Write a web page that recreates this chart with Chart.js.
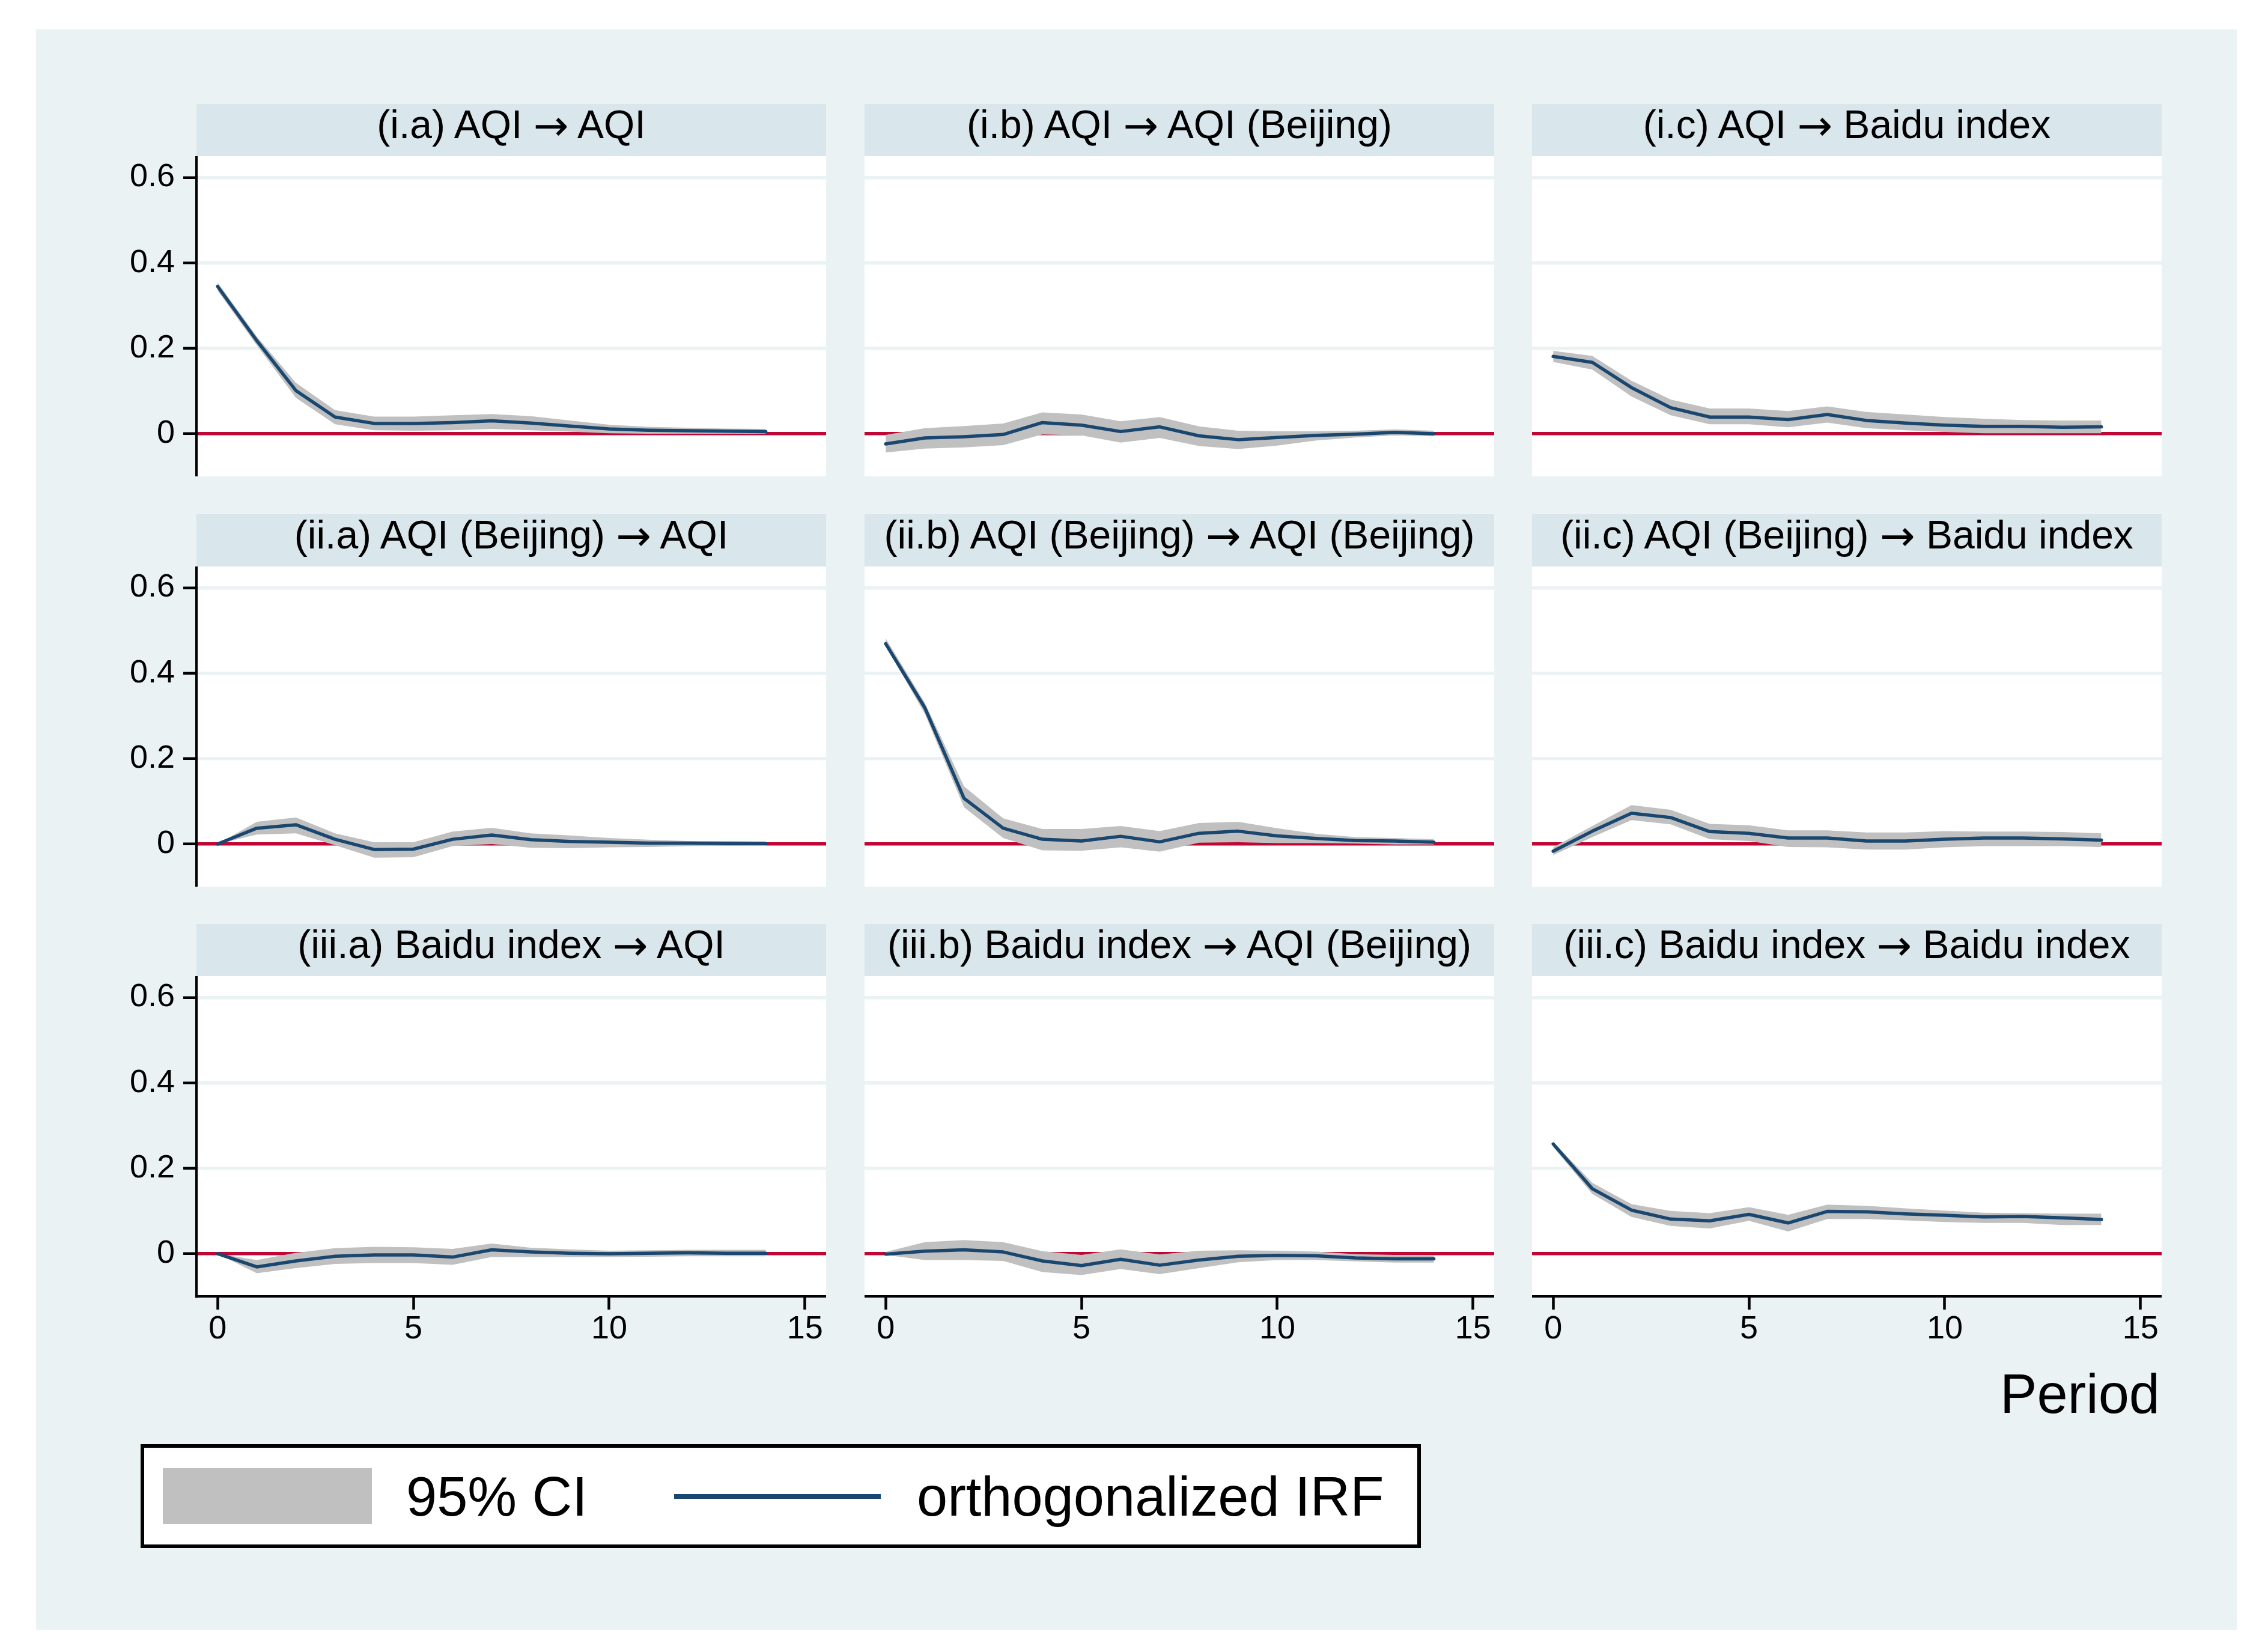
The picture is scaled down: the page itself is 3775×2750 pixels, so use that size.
<!DOCTYPE html>
<html>
<head>
<meta charset="utf-8">
<script src="https://cdn.jsdelivr.net/npm/chart.js@4.4.1/dist/chart.umd.min.js"></script>
<style>
  html, body { margin: 0; padding: 0; background: #ffffff; }
  body { width: 3775px; height: 2750px; position: relative; overflow: hidden;
         font-family: "Liberation Sans", Arial, sans-serif; color: #000; }
  .abs { position: absolute; }
  .outer { left: 60px; top: 49px; width: 3663px; height: 2664px; background: #eaf2f3; }
  .head { background: #d9e6eb; height: 87px; width: 1048px; font-size: 66px;
          line-height: 68px; text-align: center; white-space: nowrap; }
  .arrow { font-family: "DejaVu Sans", sans-serif; font-size: 70px; vertical-align: -3px; }
  .plotbg { background: #ffffff; }
  canvas { position: absolute; }
  .legend { left: 234px; top: 2404px; width: 2131px; height: 173px; box-sizing: border-box;
            border: 6px solid #000; background: #fff; }
  .big { font-size: 92px; line-height: 92px; white-space: nowrap; }
</style>
</head>
<body>
<div class="abs outer"></div>
<div id="panels"></div>
<div class="abs big" style="right:180px; top:2274px;">Period</div>
<div class="abs legend"></div>
<div class="abs" style="left:271px; top:2444px; width:348px; height:93px; background:#c0c0c0;"></div>
<div class="abs big" style="left:676px; top:2445px;">95% CI</div>
<div class="abs" style="left:1122px; top:2487px; width:344px; height:8px; background:#1a476f;"></div>
<div class="abs big" style="left:1526px; top:2445px;">orthogonalized IRF</div>

<script>
// horizon of the impulse responses
var periods = [0, 1, 2, 3, 4, 5, 6, 7, 8, 9, 10, 11, 12, 13, 14];
var xTicks = [0, 5, 10, 15];
var yTicks = [0, 0.2, 0.4, 0.6];

var titles = [
  '(i.a) AQI \u2192 AQI', '(i.b) AQI \u2192 AQI (Beijing)', '(i.c) AQI \u2192 Baidu index',
  '(ii.a) AQI (Beijing) \u2192 AQI', '(ii.b) AQI (Beijing) \u2192 AQI (Beijing)', '(ii.c) AQI (Beijing) \u2192 Baidu index',
  '(iii.a) Baidu index \u2192 AQI', '(iii.b) Baidu index \u2192 AQI (Beijing)', '(iii.c) Baidu index \u2192 Baidu index'
];

// (i.a)
var irfIa = [0.345, 0.218, 0.101, 0.039, 0.024, 0.024, 0.026, 0.030, 0.025, 0.018, 0.011, 0.008, 0.007, 0.006, 0.005];
var hiIa  = [0.354, 0.228, 0.119, 0.055, 0.040, 0.040, 0.043, 0.046, 0.041, 0.031, 0.021, 0.016, 0.014, 0.012, 0.011];
var loIa  = [0.335, 0.207, 0.084, 0.022, 0.008, 0.007, 0.008, 0.011, 0.008, 0.005, 0.001, 0.000, 0.000, 0.000, 0.000];
// (i.b)
var irfIb = [-0.024, -0.010, -0.007, -0.002, 0.026, 0.020, 0.005, 0.016, -0.005, -0.014, -0.009, -0.004, -0.001, 0.003, 0.000];
var hiIb  = [-0.003, 0.013, 0.018, 0.024, 0.050, 0.045, 0.029, 0.039, 0.017, 0.007, 0.006, 0.006, 0.007, 0.010, 0.007];
var loIb  = [-0.044, -0.035, -0.032, -0.027, -0.002, -0.004, -0.021, -0.010, -0.029, -0.036, -0.028, -0.016, -0.009, -0.004, -0.006];
// (i.c)
var irfIc = [0.181, 0.167, 0.108, 0.061, 0.039, 0.039, 0.033, 0.045, 0.031, 0.025, 0.020, 0.017, 0.017, 0.015, 0.016];
var hiIc  = [0.194, 0.182, 0.124, 0.080, 0.059, 0.059, 0.053, 0.064, 0.051, 0.045, 0.039, 0.035, 0.032, 0.031, 0.031];
var loIc  = [0.168, 0.150, 0.087, 0.043, 0.022, 0.022, 0.015, 0.026, 0.013, 0.008, 0.004, 0.001, 0.001, 0.001, 0.001];
// (ii.a)
var irfIIa = [0.000, 0.037, 0.045, 0.011, -0.013, -0.012, 0.011, 0.021, 0.010, 0.006, 0.004, 0.002, 0.002, 0.001, 0.001];
var hiIIa  = [0.000, 0.052, 0.062, 0.025, 0.004, 0.004, 0.029, 0.038, 0.025, 0.020, 0.014, 0.010, 0.007, 0.007, 0.006];
var loIIa  = [0.000, 0.022, 0.025, -0.003, -0.032, -0.031, -0.005, 0.000, -0.009, -0.010, -0.008, -0.007, -0.005, -0.004, -0.004];
// (ii.b)
var irfIIb = [0.469, 0.319, 0.107, 0.037, 0.011, 0.007, 0.018, 0.005, 0.025, 0.030, 0.019, 0.013, 0.008, 0.007, 0.004];
var hiIIb  = [0.482, 0.331, 0.135, 0.060, 0.035, 0.035, 0.042, 0.030, 0.049, 0.052, 0.037, 0.024, 0.016, 0.014, 0.011];
var loIIb  = [0.464, 0.305, 0.086, 0.014, -0.015, -0.016, -0.008, -0.018, 0.003, 0.004, 0.002, 0.002, 0.001, -0.001, -0.001];
// (ii.c)
var irfIIc = [-0.017, 0.030, 0.072, 0.062, 0.029, 0.025, 0.014, 0.014, 0.007, 0.007, 0.011, 0.014, 0.014, 0.012, 0.009];
var hiIIc  = [-0.008, 0.042, 0.091, 0.080, 0.047, 0.044, 0.032, 0.032, 0.027, 0.027, 0.030, 0.029, 0.029, 0.028, 0.025];
var loIIc  = [-0.026, 0.016, 0.056, 0.046, 0.011, 0.007, -0.007, -0.008, -0.013, -0.013, -0.008, -0.005, -0.005, -0.005, -0.007];
// (iii.a)
var irfIIIa = [0.000, -0.031, -0.017, -0.006, -0.003, -0.003, -0.008, 0.009, 0.004, 0.001, 0.000, 0.001, 0.002, 0.001, 0.001];
var hiIIIa  = [0.000, -0.015, 0.002, 0.013, 0.016, 0.015, 0.011, 0.024, 0.014, 0.010, 0.007, 0.008, 0.009, 0.009, 0.009];
var loIIIa  = [0.000, -0.046, -0.034, -0.024, -0.022, -0.022, -0.026, -0.008, -0.008, -0.008, -0.008, -0.007, -0.006, -0.006, -0.006];
// (iii.b)
var irfIIIb = [-0.001, 0.006, 0.009, 0.004, -0.017, -0.028, -0.013, -0.027, -0.015, -0.006, -0.004, -0.005, -0.010, -0.012, -0.012];
var hiIIIb  = [0.004, 0.027, 0.032, 0.027, 0.006, -0.003, 0.010, -0.002, 0.007, 0.008, 0.007, 0.005, -0.001, -0.003, -0.003];
var loIIIb  = [-0.003, -0.015, -0.015, -0.017, -0.043, -0.050, -0.036, -0.048, -0.034, -0.020, -0.015, -0.015, -0.018, -0.021, -0.021];
// (iii.c)
var irfIIIc = [0.257, 0.152, 0.102, 0.081, 0.077, 0.092, 0.072, 0.099, 0.098, 0.093, 0.090, 0.086, 0.087, 0.084, 0.080];
var hiIIIc  = [0.262, 0.166, 0.116, 0.100, 0.095, 0.109, 0.091, 0.115, 0.112, 0.106, 0.101, 0.096, 0.095, 0.094, 0.094];
var loIIIc  = [0.250, 0.140, 0.086, 0.065, 0.059, 0.077, 0.052, 0.081, 0.081, 0.078, 0.074, 0.072, 0.072, 0.067, 0.067];

var irfs = [irfIa, irfIb, irfIc, irfIIa, irfIIb, irfIIc, irfIIIa, irfIIIb, irfIIIc];
var his  = [hiIa, hiIb, hiIc, hiIIa, hiIIb, hiIIc, hiIIIa, hiIIIb, hiIIIc];
var los  = [loIa, loIb, loIc, loIIa, loIIb, loIIc, loIIIa, loIIIb, loIIIc];

// layout in page pixels
var plotLeft = [327, 1439, 2550];
var plotTop = [260, 943, 1625];
var plotW = 1048, plotH = 533, headH = 87;

var navy = '#1a476f', band = '#c0c0c0', red = '#c10534', grid = '#eaf2f3';

Chart.defaults.font.family = '"Liberation Sans", Arial, sans-serif';
Chart.defaults.color = '#000';

function pts(arr) {
  return periods.map(function (p, i) { return { x: p, y: arr[i] }; });
}

// drop the label padding Chart.js reserves, so every plot area is the same size
function noPad(s) {
  s.paddingTop = 0; s.paddingBottom = 0; s.paddingLeft = 0; s.paddingRight = 0;
}

function makePanel(k) {
  var r = Math.floor(k / 3), c = k % 3;
  var holder = document.getElementById('panels');
  var yW = c === 0 ? 220 : 0;
  var xH = r === 2 ? 110 : 0;

  var head = document.createElement('div');
  head.className = 'abs head';
  head.style.left = plotLeft[c] + 'px';
  head.style.top = (plotTop[r] - headH) + 'px';
  var parts = titles[k].split('\u2192');
  head.appendChild(document.createTextNode(parts[0]));
  var arr = document.createElement('span');
  arr.className = 'arrow';
  arr.textContent = '\u2192';
  head.appendChild(arr);
  head.appendChild(document.createTextNode(parts[1]));
  holder.appendChild(head);

  var bg = document.createElement('div');
  bg.className = 'abs plotbg';
  bg.style.left = plotLeft[c] + 'px';
  bg.style.top = plotTop[r] + 'px';
  bg.style.width = plotW + 'px';
  bg.style.height = plotH + 'px';
  holder.appendChild(bg);

  var cv = document.createElement('canvas');
  var w = plotW + yW, h = plotH + xH;
  cv.width = w; cv.height = h;
  cv.style.left = (plotLeft[c] - yW) + 'px';
  cv.style.top = plotTop[r] + 'px';
  cv.style.width = w + 'px';
  cv.style.height = h + 'px';
  holder.appendChild(cv);

  new Chart(cv.getContext('2d'), {
    type: 'line',
    data: {
      datasets: [
        { data: pts(irfs[k]), order: 0, borderColor: navy, borderWidth: 5.5, pointRadius: 0, fill: false,
          borderCapStyle: 'round', borderJoinStyle: 'round' },
        { data: pts(los[k]), order: 2, borderColor: 'rgba(0,0,0,0)', borderWidth: 1, pointRadius: 0, fill: false },
        { data: pts(his[k]), order: 1, borderColor: 'rgba(0,0,0,0)', borderWidth: 1, pointRadius: 0,
          fill: '-1', backgroundColor: band }
      ]
    },
    options: {
      responsive: false,
      animation: false,
      devicePixelRatio: 1,
      layout: { padding: 0, autoPadding: false },
      plugins: { legend: { display: false }, tooltip: { enabled: false } },
      scales: {
        x: {
          type: 'linear', min: -0.54, max: 15.54,
          display: r === 2,
          afterBuildTicks: function (s) { s.ticks = xTicks.map(function (v) { return { value: v }; }); },
          afterFit: function (s) { s.height = xH; noPad(s); },
          border: { display: true, color: '#000', width: 4 },
          grid: { drawOnChartArea: false, drawTicks: true, tickLength: 22, tickWidth: 4.5, tickColor: '#000' },
          ticks: { font: { size: 54 }, padding: 1, maxRotation: 0 }
        },
        y: {
          type: 'linear', min: -0.1, max: 0.65,
          afterBuildTicks: function (s) { s.ticks = yTicks.map(function (v) { return { value: v }; }); },
          afterFit: function (s) { s.width = yW; noPad(s); },
          border: { display: c === 0, color: '#000', width: 4 },
          grid: {
            drawTicks: c === 0, tickLength: 22, tickWidth: 4.5, tickColor: '#000',
            color: function (ctx) { return ctx.tick && ctx.tick.value === 0 ? red : grid; },
            lineWidth: 5.5
          },
          ticks: {
            display: c === 0, font: { size: 54 }, padding: 14,
            callback: function (v) { return String(v); }
          }
        }
      }
    }
  });
}

for (var k = 0; k < 9; k++) makePanel(k);
</script>
</body>
</html>
